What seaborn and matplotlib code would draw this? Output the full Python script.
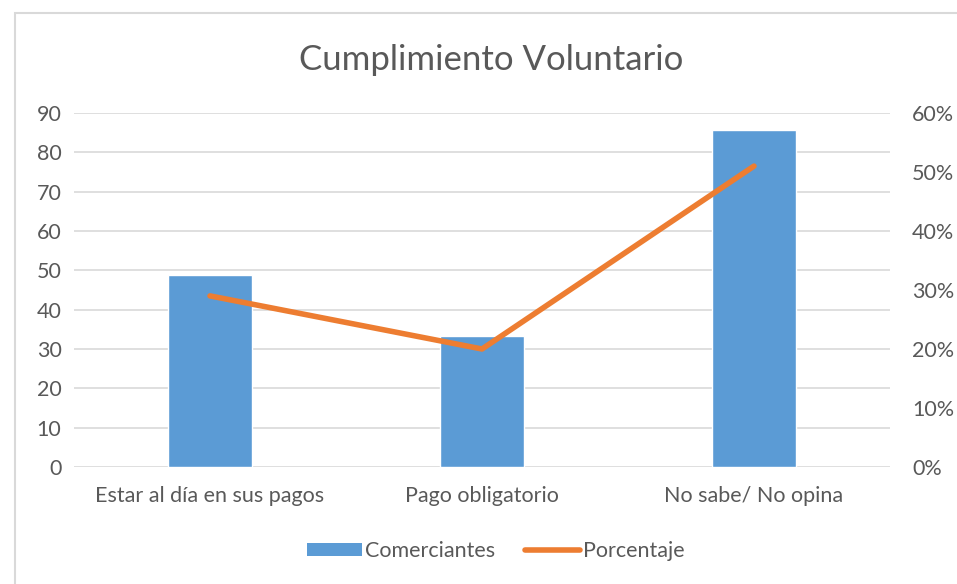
import matplotlib
matplotlib.use("Agg")
import matplotlib.pyplot as plt
import seaborn as sns
import pandas as pd
from matplotlib.patches import Rectangle, Patch
from matplotlib.lines import Line2D
from matplotlib.ticker import FuncFormatter

categories = ["Estar al día en sus pagos", "Pago obligatorio", "No sabe/ No opina"]
comerciantes = [48.7, 33.4, 85.6]
porcentaje = [0.29, 0.20, 0.51]
left_ticks = list(range(0, 91, 10))
right_ticks = [0, 0.1, 0.2, 0.3, 0.4, 0.5, 0.6]

sns.set_style("white")
plt.rcParams['font.family'] = ['Lato', 'DejaVu Sans']

W, H = 957, 584
fig = plt.figure(figsize=(W / 100, H / 100), dpi=100)
ax = fig.add_axes([74 / W, 1 - 467 / H, (890 - 74) / W, (467 - 113) / H])

df = pd.DataFrame({"cat": categories, "val": comerciantes, "pct": porcentaje})
sns.barplot(data=df, x="cat", y="val", color="#5B9BD5", width=0.31, ax=ax,
            saturation=1, zorder=3)
ax.set_ylim(0, 90)
ax.set_xlim(-0.5, 2.5)
ax.set_yticks(left_ticks)
ax.yaxis.grid(True, color="#D9D9D9", linewidth=1.2, zorder=0)
ax.set_axisbelow(True)
for s in ax.spines.values():
    s.set_visible(False)
ax.set_xlabel("")
ax.set_ylabel("")
ax.tick_params(axis="both", length=0, labelsize=15.5, colors="#595959")
ax.tick_params(axis="y", pad=9)
ax.tick_params(axis="x", pad=14)

ax2 = ax.twinx()
sns.lineplot(data=df, x="cat", y="pct", color="#ED7D31", linewidth=4, ax=ax2,
             sort=False, zorder=4)
ax2.set_ylim(0, 0.6)
ax2.set_yticks(right_ticks)
ax2.yaxis.set_major_formatter(FuncFormatter(lambda v, p: f"{v*100:.0f}%"))
for s in ax2.spines.values():
    s.set_visible(False)
ax2.set_ylabel("")
ax2.tick_params(axis="y", length=0, labelsize=15.5, colors="#595959", pad=16)
ax2.set_xlim(-0.5, 2.5)

fig.text(491 / W, 1 - 60 / H, "Cumplimiento Voluntario", ha="center", va="center",
         fontsize=25, color="#595959")

handles = [Patch(facecolor="#5B9BD5", edgecolor="none"),
           Line2D([0], [0], color="#ED7D31", linewidth=4)]
fig.legend(handles, ["Comerciantes", "Porcentaje"],
           loc="center", bbox_to_anchor=(496 / W, 1 - 551 / H), ncol=2, frameon=False,
           fontsize=15.5, labelcolor="#595959", handlelength=2.55, handleheight=0.55,
           handletextpad=0.15, columnspacing=1.4)

fig.patches.append(Rectangle((15 / W, -0.1), 1.2, 1 - 13 / H + 0.1, transform=fig.transFigure,
                             fill=False, edgecolor="#D9D9D9", linewidth=1.5))

fig.savefig("out.png", dpi=100, facecolor="white")
